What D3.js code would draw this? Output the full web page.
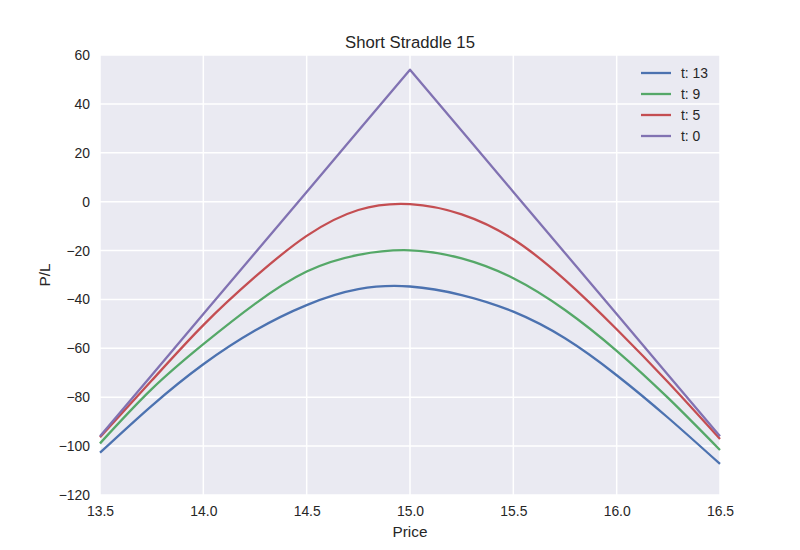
<!DOCTYPE html>
<html>
<head>
<meta charset="utf-8">
<script src="https://cdn.jsdelivr.net/npm/d3@7"></script>
<style>
	body { margin: 0; background: #fff; }
	svg { font-family: "Liberation Sans", Arial, sans-serif; }
	.tick text { fill: #262626; font-size: 13.9px; }
</style>
</head>
<body>
<div id="chart"></div>
<script>
// underlying prices where the curves were read
var prices = [13.5, 13.75, 14.0, 14.25, 14.5, 14.75, 15.0, 15.25, 15.5, 15.75, 16.0, 16.25, 16.5];

// P/L per days left
var plT13 = [-102.7, -83.5, -66.5, -52.7, -42.3, -35.8, -34.7, -38.2, -45.0, -55.9, -71.0, -88.5, -107.3];
var plT9 = [-98.9, -76.7, -58.3, -41.8, -28.6, -21.8, -19.9, -23.2, -31.3, -44.3, -61.0, -80.4, -101.6];
var plT5 = [-96.4, -73.2, -50.5, -30.8, -14.0, -3.4, -1.0, -5.2, -15.4, -32.0, -52.2, -74.0, -97.1];
var plT0 = [-96, -71, -46, -21, 4, 29, 54, 29, 4, -21, -46, -71, -96];

var seriesNames = ['t: 13', 't: 9', 't: 5', 't: 0'];
var seriesValues = [plT13, plT9, plT5, plT0];
var colors = ['#4C72B0', '#55A868', '#C44E52', '#8172B2'];

var xTicks = [13.5, 14.0, 14.5, 15.0, 15.5, 16.0, 16.5];
var yTicks = [-120, -100, -80, -60, -40, -20, 0, 20, 40, 60];

var width = 800;
var height = 550;
var margin = {top: 55, right: 80, bottom: 55, left: 100};

var svg = d3.select('#chart')
	.append('svg')
	.attr('width', width)
	.attr('height', height);

var x = d3.scaleLinear()
	.domain([13.5, 16.5])
	.range([margin.left, width - margin.right]);

var y = d3.scaleLinear()
	.domain([-120, 60])
	.range([height - margin.bottom, margin.top]);

// plot background
svg.append('rect')
	.attr('x', x(13.5))
	.attr('y', y(60))
	.attr('width', x(16.5) - x(13.5))
	.attr('height', y(-120) - y(60))
	.attr('fill', '#EAEAF2');

// grid
svg.append('g')
	.selectAll('line')
	.data(xTicks)
	.enter()
	.append('line')
	.attr('x1', function(d) { return x(d); })
	.attr('x2', function(d) { return x(d); })
	.attr('y1', y(60))
	.attr('y2', y(-120))
	.attr('stroke', '#fff')
	.attr('stroke-width', 1.5);

svg.append('g')
	.selectAll('line')
	.data(yTicks)
	.enter()
	.append('line')
	.attr('x1', x(13.5))
	.attr('x2', x(16.5))
	.attr('y1', function(d) { return y(d); })
	.attr('y2', function(d) { return y(d); })
	.attr('stroke', '#fff')
	.attr('stroke-width', 1.5);

// axes, no ticks or spines
var xAxis = svg.append('g')
	.attr('transform', 'translate(0,' + y(-120) + ')')
	.call(d3.axisBottom(x).tickValues(xTicks).tickFormat(d3.format('.1f')).tickSize(0).tickPadding(11));

var yAxis = svg.append('g')
	.attr('transform', 'translate(' + x(13.5) + ',0)')
	.call(d3.axisLeft(y).tickValues(yTicks).tickFormat(d3.format('d')).tickSize(0).tickPadding(10));

xAxis.select('.domain').remove();
yAxis.select('.domain').remove();
svg.selectAll('.tick text').attr('font-family', null);

// lines: smooth for t > 0, straight payoff at expiry
seriesValues.forEach(function(values, index) {
	var line = d3.line()
		.x(function(d, i) { return x(prices[i]); })
		.y(function(d) { return y(d); })
		.curve(seriesNames[index] === 't: 0' ? d3.curveLinear : d3.curveNatural);

	svg.append('path')
		.datum(values)
		.attr('fill', 'none')
		.attr('stroke', colors[index])
		.attr('stroke-width', 2.3)
		.attr('stroke-linejoin', 'round')
		.attr('d', line);
});

// title and labels
svg.append('text')
	.attr('x', (x(13.5) + x(16.5)) / 2)
	.attr('y', 48)
	.attr('text-anchor', 'middle')
	.attr('fill', '#262626')
	.style('font-size', '16.7px')
	.text('Short Straddle 15');

svg.append('text')
	.attr('x', (x(13.5) + x(16.5)) / 2)
	.attr('y', 537)
	.attr('text-anchor', 'middle')
	.attr('fill', '#262626')
	.style('font-size', '15.3px')
	.text('Price');

svg.append('text')
	.attr('transform', 'translate(50,' + (y(60) + y(-120)) / 2 + ') rotate(-90)')
	.attr('text-anchor', 'middle')
	.attr('fill', '#262626')
	.style('font-size', '15.3px')
	.text('P/L');

// legend
var legend = svg.append('g')
	.attr('transform', 'translate(641,73)');

seriesNames.forEach(function(name, index) {
	var row = legend.append('g')
		.attr('transform', 'translate(0,' + index * 21 + ')');

	row.append('line')
		.attr('x1', 0)
		.attr('x2', 30)
		.attr('stroke', colors[index])
		.attr('stroke-width', 2.3);

	row.append('text')
		.attr('x', 40)
		.attr('dy', '0.35em')
		.attr('fill', '#262626')
		.style('font-size', '13.9px')
		.text(name);
});
</script>
</body>
</html>
